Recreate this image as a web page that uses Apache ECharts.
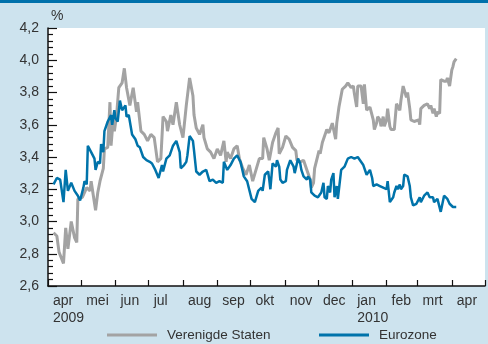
<!DOCTYPE html>
<html>
<head>
<meta charset="utf-8">
<script src="https://cdn.jsdelivr.net/npm/echarts@6/dist/echarts.min.js"></script>
<style>
html,body{margin:0;padding:0;background:#cde3ee;}
#chart{width:488px;height:344px;}
</style>
</head>
<body>
<div id="chart"></div>
<script>
// Verenigde Staten (grey)
var usDates = ['2009-04-06','2009-04-09','2009-04-11','2009-04-15','2009-04-17','2009-04-19','2009-04-22','2009-04-25','2009-04-27','2009-04-28',
'2009-05-02','2009-05-06','2009-05-09','2009-05-10','2009-05-14','2009-05-16','2009-05-18','2009-05-21','2009-05-22','2009-05-25','2009-05-27','2009-05-28','2009-05-30','2009-05-31',
'2009-06-02','2009-06-04','2009-06-07','2009-06-09','2009-06-11','2009-06-14','2009-06-17','2009-06-20','2009-06-21','2009-06-24','2009-06-27','2009-06-30',
'2009-07-03','2009-07-06','2009-07-09','2009-07-12','2009-07-14','2009-07-17','2009-07-18','2009-07-21','2009-07-23','2009-07-26','2009-07-29',
'2009-08-01','2009-08-04','2009-08-07','2009-08-10','2009-08-11','2009-08-13','2009-08-16','2009-08-19','2009-08-20','2009-08-23','2009-08-26','2009-08-29',
'2009-09-01','2009-09-04','2009-09-07','2009-09-09','2009-09-10','2009-09-13','2009-09-16','2009-09-19','2009-09-21','2009-09-24','2009-09-27','2009-09-30',
'2009-10-03','2009-10-06','2009-10-09','2009-10-12','2009-10-13','2009-10-16','2009-10-18','2009-10-21','2009-10-24','2009-10-26','2009-10-27','2009-10-30',
'2009-11-02','2009-11-05','2009-11-08','2009-11-11','2009-11-12','2009-11-15','2009-11-18','2009-11-21','2009-11-24','2009-11-25','2009-11-27','2009-11-28',
'2009-12-02','2009-12-03','2009-12-05','2009-12-08','2009-12-09','2009-12-11','2009-12-14','2009-12-17','2009-12-18','2009-12-20','2009-12-23','2009-12-26','2009-12-28','2009-12-31',
'2010-01-02','2010-01-03','2010-01-05','2010-01-06','2010-01-09','2010-01-11','2010-01-12','2010-01-14','2010-01-17','2010-01-20','2010-01-21','2010-01-23','2010-01-24','2010-01-26','2010-01-27','2010-01-29','2010-01-30',
'2010-02-01','2010-02-02','2010-02-04','2010-02-05','2010-02-08','2010-02-10','2010-02-13','2010-02-14','2010-02-16','2010-02-19','2010-02-20','2010-02-22','2010-02-23','2010-02-26',
'2010-03-02','2010-03-03','2010-03-04','2010-03-07','2010-03-10','2010-03-12','2010-03-13','2010-03-15','2010-03-16','2010-03-18','2010-03-19','2010-03-21','2010-03-22','2010-03-25','2010-03-27','2010-03-28','2010-03-30',
'2010-04-01','2010-04-02','2010-04-03','2010-04-05'];
var usValues = [2.93,2.91,2.81,2.74,2.96,2.83,3.00,2.90,2.87,3.14,
3.15,3.21,3.19,3.25,3.07,3.18,3.25,3.33,3.45,3.46,3.74,3.47,3.64,3.56,
3.66,3.83,3.86,3.95,3.83,3.72,3.83,3.68,3.74,3.56,3.54,3.50,
3.54,3.52,3.37,3.39,3.65,3.62,3.56,3.66,3.60,3.74,3.60,
3.52,3.72,3.89,3.78,3.66,3.58,3.54,3.60,3.52,3.45,3.43,3.39,
3.45,3.41,3.50,3.37,3.43,3.39,3.45,3.47,3.39,3.33,3.29,3.35,
3.25,3.32,3.39,3.39,3.52,3.45,3.38,3.49,3.55,3.58,3.42,3.46,
3.53,3.51,3.46,3.44,3.38,3.37,3.38,3.32,3.26,3.21,3.24,3.33,
3.44,3.42,3.49,3.55,3.57,3.55,3.61,3.51,3.61,3.71,3.82,3.84,3.86,3.83,
3.84,3.79,3.71,3.84,3.84,3.73,3.85,3.69,3.71,3.63,3.57,3.61,3.65,3.63,3.59,3.65,3.59,
3.63,3.70,3.59,3.57,3.57,3.73,3.69,3.75,3.84,3.77,3.80,3.70,3.63,3.62,
3.63,3.60,3.70,3.72,3.73,3.70,3.72,3.67,3.70,3.65,3.68,3.67,3.88,3.87,3.87,3.89,3.84,
3.94,3.96,3.99,4.01];

// Eurozone (blue)
var euDates = ['2009-04-06','2009-04-09','2009-04-12','2009-04-15','2009-04-17','2009-04-19','2009-04-22','2009-04-25','2009-04-28','2009-04-30',
'2009-05-03','2009-05-04','2009-05-06','2009-05-07','2009-05-10','2009-05-13','2009-05-14','2009-05-16','2009-05-18','2009-05-19','2009-05-21','2009-05-22','2009-05-25','2009-05-28','2009-05-29','2009-05-31',
'2009-06-01','2009-06-03','2009-06-05','2009-06-07','2009-06-10','2009-06-11','2009-06-13','2009-06-16','2009-06-19','2009-06-21','2009-06-23','2009-06-26','2009-06-29',
'2009-07-02','2009-07-04','2009-07-07','2009-07-10','2009-07-13','2009-07-14','2009-07-17','2009-07-20','2009-07-23','2009-07-26','2009-07-29','2009-07-30',
'2009-08-02','2009-08-04','2009-08-05','2009-08-07','2009-08-10','2009-08-11','2009-08-13','2009-08-16','2009-08-19','2009-08-22','2009-08-25','2009-08-28','2009-08-31',
'2009-09-03','2009-09-06','2009-09-07','2009-09-10','2009-09-13','2009-09-16','2009-09-19','2009-09-22','2009-09-25','2009-09-28',
'2009-10-02','2009-10-05','2009-10-08','2009-10-11','2009-10-12','2009-10-14','2009-10-17','2009-10-18','2009-10-19','2009-10-21','2009-10-24','2009-10-25','2009-10-27','2009-10-28','2009-10-30',
'2009-11-02','2009-11-03','2009-11-04','2009-11-06','2009-11-09','2009-11-10','2009-11-13','2009-11-15','2009-11-16','2009-11-18','2009-11-21','2009-11-22','2009-11-24','2009-11-25','2009-11-28',
'2009-12-01','2009-12-04','2009-12-06','2009-12-07','2009-12-09','2009-12-10','2009-12-12','2009-12-13','2009-12-15','2009-12-16','2009-12-18','2009-12-19','2009-12-22','2009-12-25','2009-12-28','2009-12-31',
'2010-01-03','2010-01-06','2010-01-08','2010-01-11','2010-01-14','2010-01-17','2010-01-19','2010-01-20','2010-01-23','2010-01-26','2010-01-29',
'2010-02-01','2010-02-02','2010-02-04','2010-02-07','2010-02-08','2010-02-10','2010-02-11','2010-02-13','2010-02-14','2010-02-16','2010-02-17','2010-02-20','2010-02-22','2010-02-23','2010-02-25','2010-02-28',
'2010-03-03','2010-03-04','2010-03-07','2010-03-10','2010-03-12','2010-03-15','2010-03-16','2010-03-19','2010-03-22','2010-03-25','2010-03-28','2010-03-30',
'2010-04-02','2010-04-05'];
var euValues = [3.23,3.27,3.26,3.12,3.32,3.19,3.24,3.19,3.16,3.13,
3.21,3.25,3.23,3.47,3.43,3.39,3.32,3.37,3.36,3.48,3.43,3.56,3.62,3.66,3.60,3.69,
3.64,3.62,3.75,3.69,3.72,3.65,3.66,3.54,3.51,3.47,3.46,3.40,3.38,
3.37,3.36,3.32,3.27,3.35,3.31,3.39,3.41,3.47,3.50,3.43,3.33,
3.35,3.37,3.41,3.53,3.50,3.44,3.31,3.29,3.31,3.32,3.25,3.26,3.24,
3.25,3.24,3.37,3.32,3.35,3.39,3.41,3.37,3.28,3.25,
3.14,3.12,3.19,3.21,3.19,3.29,3.31,3.26,3.20,3.36,3.34,3.38,3.34,3.26,3.24,
3.25,3.32,3.34,3.38,3.34,3.30,3.39,3.36,3.32,3.28,3.26,3.28,3.26,3.18,3.16,
3.15,3.18,3.24,3.15,3.14,3.22,3.18,3.26,3.30,3.15,3.22,3.14,3.32,3.34,3.39,3.40,
3.39,3.40,3.38,3.35,3.29,3.32,3.27,3.22,3.23,3.22,3.21,
3.20,3.25,3.12,3.15,3.18,3.22,3.20,3.23,3.20,3.22,3.29,3.28,3.22,3.15,3.10,3.11,
3.15,3.12,3.16,3.18,3.15,3.15,3.12,3.14,3.06,3.16,3.14,3.11,
3.09,3.09];

var monthNames = ['jan','feb','mrt','apr','mei','jun','jul','aug','sep','okt','nov','dec'];
var yearLabels = {'2009-3': '2009', '2010-0': '2010'};
var seriesNames = ['Verenigde Staten', 'Eurozone'];

function pairs(d, v) { return d.map(function (x, i) { return [x, v[i]]; }); }

var FONT = 'Liberation Sans, Arial, sans-serif';
var chart = echarts.init(document.getElementById('chart'), null, {renderer: 'canvas'});
chart.setOption({
  animation: false,
  backgroundColor: '#cde3ee',
  grid: {left: 48, right: 3, top: 28, bottom: 58, show: true, backgroundColor: '#ffffff', borderWidth: 0},
  xAxis: {
    type: 'time',
    min: '2009-04-01',
    max: '2010-05-01',
    minInterval: 28 * 86400000,
    maxInterval: 31 * 86400000,
    splitNumber: 13,
    axisLine: {show: true, lineStyle: {color: '#111', width: 1.5}},
    axisTick: {show: true, inside: true, length: 6, lineStyle: {color: '#111', width: 1.2}},
    splitLine: {show: false},
    axisLabel: {
      show: true, color: '#333', fontFamily: FONT, fontSize: 14, align: 'left',
      margin: 7, lineHeight: 17, padding: [0, 0, 0, 5],
      showMinLabel: true, showMaxLabel: false, hideOverlap: false,
      formatter: function (val) {
        var d = new Date(val);
        if (d.getFullYear() === 2010 && d.getMonth() >= 4) return '';
        var s = monthNames[d.getMonth()];
        var y = yearLabels[d.getFullYear() + '-' + d.getMonth()];
        return y ? s + '\n' + y : s;
      }
    }
  },
  yAxis: {
    type: 'value', min: 2.6, max: 4.2, interval: 0.2,
    axisLine: {show: true, lineStyle: {color: '#111', width: 1.5}},
    axisTick: {show: true, inside: true, length: 9, lineStyle: {color: '#111', width: 1.2}},
    minorTick: {show: true, splitNumber: 5, length: 5, lineStyle: {color: '#111', width: 1.2}},
    splitLine: {show: false},
    axisLabel: {color: '#333', fontFamily: FONT, fontSize: 14, margin: 9,
      formatter: function (v) { return v.toFixed(1).replace('.', ','); }}
  },
  legend: [
    {data: [seriesNames[0]], left: 107, top: 328, padding: 0, icon: 'rect', itemWidth: 50, itemHeight: 3,
     textStyle: {color: '#333', fontFamily: FONT, fontSize: 13.5, padding: [0, 0, 0, 5]}},
    {data: [seriesNames[1]], left: 319, top: 328, padding: 0, icon: 'rect', itemWidth: 50, itemHeight: 3,
     textStyle: {color: '#333', fontFamily: FONT, fontSize: 13.5, padding: [0, 0, 0, 5]}}
  ],
  graphic: [
    {type: 'rect', left: 0, top: 0, shape: {width: 488, height: 3}, style: {fill: '#0071ab'}},
    {type: 'text', left: 51, top: 9, style: {text: '%', fill: '#333', font: '14px Liberation Sans, Arial, sans-serif'}}
  ],
  series: [
    {name: seriesNames[0], type: 'line', data: pairs(usDates, usValues), showSymbol: false,
     color: '#a3a3a3', lineStyle: {width: 3, color: '#a3a3a3'}, z: 2},
    {name: seriesNames[1], type: 'line', data: pairs(euDates, euValues), showSymbol: false,
     color: '#0073aa', lineStyle: {width: 2.5, color: '#0073aa'}, z: 3}
  ]
});
</script>
</body>
</html>
